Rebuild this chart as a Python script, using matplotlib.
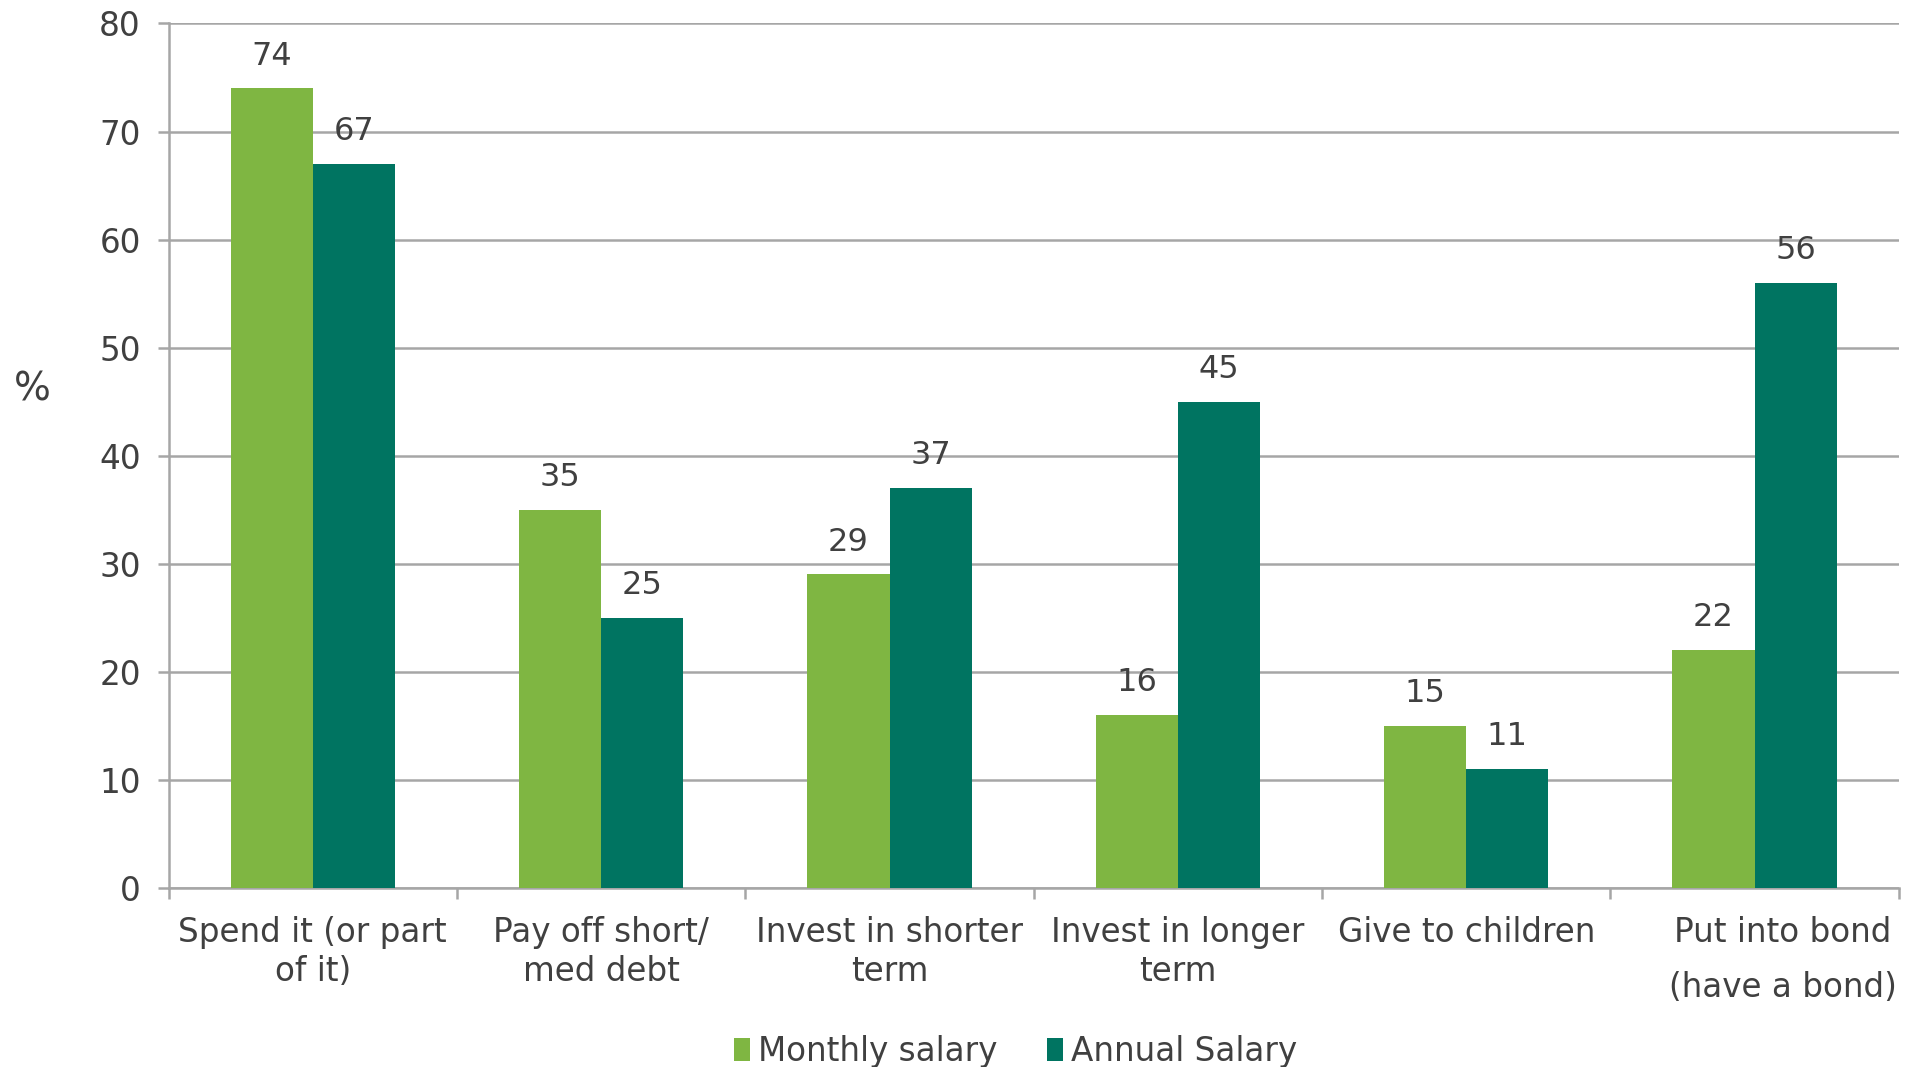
import matplotlib.pyplot as plt
import matplotlib.transforms as mtransforms
import numpy as np

# Survey answers: what people would do with an extra salary
categories = ['Spend it (or part\nof it)', 'Pay off short/\nmed debt', 'Invest in shorter\nterm',
              'Invest in longer\nterm', 'Give to children', 'Put into bond\n(have a bond)']
monthly = [74, 35, 29, 16, 15, 22]
annual = [67, 25, 37, 45, 11, 56]
series_names = ['Monthly salary', 'Annual Salary']

green = '#7fb642'
teal = '#007461'
text_col = '#404040'
grid_col = '#a6a6a6'

plt.rcParams['font.family'] = ['DejaVu Sans']

fig = plt.figure(figsize=(19.16, 10.67), dpi=100)
ax = fig.add_axes([0.088, 0.168, 0.903, 0.810])

x = np.arange(len(categories))
w = 0.285
b1 = ax.bar(x - w / 2, monthly, w, color=green, label=series_names[0], zorder=3)
b2 = ax.bar(x + w / 2, annual, w, color=teal, label=series_names[1], zorder=3)

for bars in (b1, b2):
    for rect in bars:
        h = rect.get_height()
        ax.annotate(f'{h:.0f}', (rect.get_x() + rect.get_width() / 2, h),
                    xytext=(0, 12), textcoords='offset points',
                    ha='center', va='bottom', fontsize=23, color=text_col)

ax.set_ylim(0, 80)
ax.set_xlim(-0.5, len(categories) - 0.5)
ax.set_yticks(range(0, 81, 10))
ax.yaxis.grid(True, color=grid_col, linewidth=1.8, zorder=0)
ax.tick_params(axis='y', length=8, width=1.8, color=grid_col, labelsize=23.5,
               labelcolor=text_col, pad=12)

# category labels centred, separator ticks between groups
ax.set_xticks(x)
ax.set_xticklabels(categories, fontsize=23.5, color=text_col, linespacing=1.25)
ax.set_xticks(np.arange(-0.5, len(categories), 1), minor=True)
ax.tick_params(axis='x', which='major', length=0, pad=20)
ax.tick_params(axis='x', which='minor', length=8, width=1.8, color=grid_col)
last = ax.get_xticklabels()[-1]
last.set_linespacing(1.85)
last.set_transform(last.get_transform() +
                   mtransforms.ScaledTranslation(0.28, 0, fig.dpi_scale_trans))

for side in ('top', 'right'):
    ax.spines[side].set_visible(False)
for side in ('left', 'bottom'):
    ax.spines[side].set_color(grid_col)
    ax.spines[side].set_linewidth(1.8)

fig.text(0.017, 0.635, '%', fontsize=28, color=text_col, ha='center', va='center')

leg = fig.legend(loc='lower center', bbox_to_anchor=(0.53, -0.004), ncol=2, frameon=False,
                 fontsize=23.5, handlelength=0.5, handleheight=0.7, handletextpad=0.25,
                 columnspacing=1.5, borderpad=0.1, borderaxespad=0)
for t in leg.get_texts():
    t.set_color(text_col)

fig.savefig('out.png', dpi=100)
